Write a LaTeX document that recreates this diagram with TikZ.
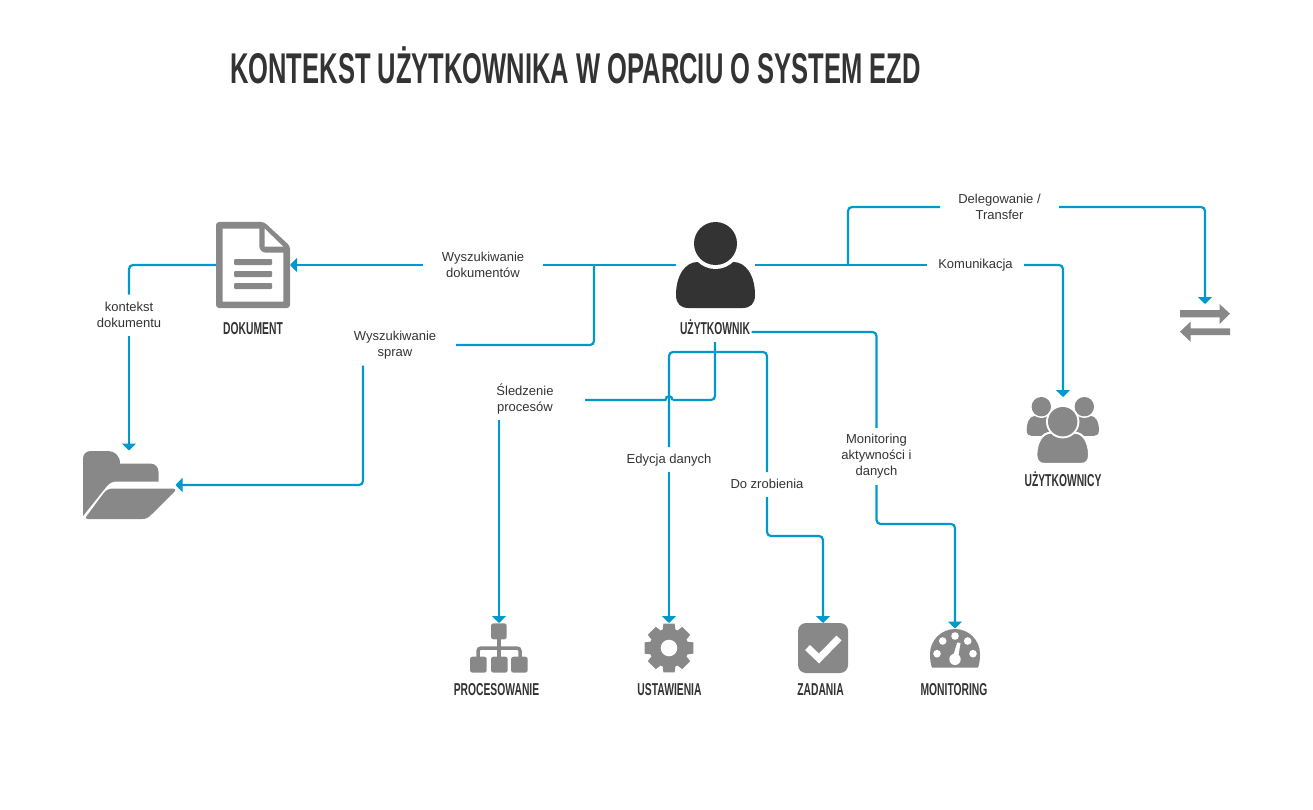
\documentclass[tikz,border=0pt]{standalone}
\usepackage{fontspec}
\usepackage{xcolor}
\setmainfont{Liberation Sans}
\newfontfamily\capfont[FakeStretch=0.6]{Liberation Sans Bold}
\newfontfamily\titlefont[FakeStretch=0.594]{Liberation Sans Bold}
\definecolor{flowblue}{RGB}{0, 153, 204}
\definecolor{icongray}{RGB}{136,136,136}
\definecolor{inkdark}{RGB}{51,51,51}
\usetikzlibrary{arrows.meta, positioning}
\tikzset{flow/.style={draw=flowblue, line width=2.2pt, rounded corners=4pt},
arrowflow/.style={flow, -{Triangle[length=7pt,width=14pt]}},
iconbox/.style={inner sep=0pt, outer sep=0pt},
txtlabel/.style={inner sep=0pt, outer sep=0pt, align=center, text=inkdark,
  font=\fontsize{13}{16}\selectfont},
oneline/.style={text height=10pt, text depth=3pt},
capt/.style={inner sep=0pt, outer sep=0pt, anchor=base, text=inkdark,
  font=\capfont\fontsize{17.2}{20}\selectfont}
}
% Function to draw a head-and-shoulders body, top centre at (#1,#2)
\newcommand{\fillbust}[5]{
  \path[#5, shift={(#1,#2)}, xscale=#3, yscale=#4] (-39.5,33)
    .. controls (-39.5,13) and (-30,0) .. (-18,0) -- (18,0)
    .. controls (30,0) and (39.5,13) .. (39.5,33)
    .. controls (39.5,42) and (34.5,46) .. (27,46) -- (-27,46)
    .. controls (-34.5,46) and (-39.5,42) .. (-39.5,33) -- cycle;
}
\begin{document}
\begin{tikzpicture}[x=1pt, y=-1pt]
\useasboundingbox (0,0) rectangle (1313,810);

% === Title ===
\node[anchor=base west, inner sep=0pt, text=inkdark, font=\titlefont\fontsize{43}{50}\selectfont] (title) at (230,84) {KONTEKST UŻYTKOWNIKA W OPARCIU O SYSTEM EZD};

% === Icon boxes (connectors end on these) ===
\node[iconbox, minimum width=74, minimum height=86] (dokument) at (253,265) {};
\node[iconbox, minimum width=93, minimum height=69] (folder) at (129,485) {};
\node[iconbox, minimum width=79, minimum height=86] (user) at (715.5,265) {};
\node[iconbox, minimum width=71, minimum height=67] (users) at (1063,430.5) {};
\node[iconbox, minimum width=50, minimum height=38] (transfer) at (1205,323) {};
\node[iconbox, minimum width=58, minimum height=50] (proces) at (499,648) {};
\node[iconbox, minimum width=50, minimum height=50] (gear) at (669,648) {};
\node[iconbox, minimum width=50, minimum height=50] (zadania) at (823,648) {};
\node[iconbox, minimum width=50, minimum height=39] (monit) at (955,648) {};

% === Captions ===
\node[capt] (capDokument) at (253,334) {DOKUMENT};
\node[capt, minimum width=73, text height=12pt, text depth=8pt] (capUser) at (715,334) {UŻYTKOWNIK};
\node[capt] (capUsers) at (1063,486.7) {UŻYTKOWNICY};
\node[capt] (capProces) at (496.5,695.7) {PROCESOWANIE};
\node[capt] (capGear) at (669.5,695.7) {USTAWIENIA};
\node[capt] (capZadania) at (820.5,695.7) {ZADANIA};
\node[capt] (capMonit) at (954,695.7) {MONITORING};

% === Connector labels ===
\node[txtlabel, minimum width=120, minimum height=36] (lblDocSearch) at (483,265) {Wyszukiwanie\\dokumentów};
\node[txtlabel, minimum width=70, minimum height=41] (lblKontekst) at (129,315) {kontekst\\dokumentu};
\node[txtlabel, minimum width=122, minimum height=41] (lblSprawy) at (395,345) {Wyszukiwanie\\spraw};
\node[txtlabel, minimum width=120, minimum height=42] (lblSled) at (525,399) {Śledzenie\\procesów};
\node[txtlabel, oneline, minimum width=95, minimum height=25] (lblEdycja) at (669,459.5) {Edycja danych};
\node[txtlabel, oneline, minimum width=80, minimum height=25] (lblZrobic) at (767,484.5) {Do zrobienia};
\node[txtlabel, minimum width=80, minimum height=57] (lblMonit) at (876.5,456.5) {Monitoring\\aktywności i\\danych};
\node[txtlabel, oneline, minimum width=97, minimum height=20] (lblKomunik) at (975.5,265) {Komunikacja};
\node[txtlabel, minimum width=119, minimum height=36] (lblDeleg) at (999.5,207) {Delegowanie /\\Transfer};

% === Branch points ===
\coordinate (junctionLeft) at (594,265);
\coordinate (junctionRight) at (848,265);
\coordinate (branchTop) at (715,352);
\coordinate (hopRight) at (672.5,400);
\coordinate (hopLeft) at (665.5,400);

% === Connectors ===
\draw[flow] (user.west) -- (lblDocSearch.east);
\draw[arrowflow] (lblDocSearch.west) -- (dokument.east);
\draw[flow] (dokument.west) -| (lblKontekst.north);
\draw[arrowflow] (lblKontekst.south) -- (folder.north);
\draw[flow] (junctionLeft) |- (lblSprawy.east);
\draw[arrowflow] ([xshift=-32pt]lblSprawy.south) |- (folder.east);
\draw[flow] (capUser.south) |- (hopRight);
\draw[draw=flowblue, line width=2.2pt] (hopRight) .. controls +(0,-5) and +(0,-5) .. (hopLeft) -- (hopLeft -| lblSled.east);
\draw[arrowflow] (lblSled.south -| proces.north) -- (proces.north);
\draw[flow] (branchTop) -| (lblEdycja.north);
\draw[arrowflow] (lblEdycja.south) -- (gear.north);
\draw[flow] (branchTop) -| (lblZrobic.north);
\draw[arrowflow] (lblZrobic.south) -- ++(0,39) -| (zadania.north);
\draw[flow] (capUser.east) -| (lblMonit.north);
\draw[arrowflow] (lblMonit.south) -- ++(0,39) -| (monit.north);
\draw[flow] (user.east) -- (lblKomunik.west);
\draw[arrowflow] (lblKomunik.east) -| (users.north);
\draw[flow] (junctionRight) |- (lblDeleg.west);
\draw[arrowflow] (lblDeleg.east) -| (transfer.north);

% === Icons ===
% Document
\fill[icongray, rounded corners=3pt] (216,222) -- (264,222) -- (290,246) -- (290,308) -- (216,308) -- cycle;
\fill[white] (222.7,228.7) -- (259.3,228.7) -- (259.3,246) .. controls (259.3,250) and (262,252.7) .. (266,252.7) -- (283.3,252.7) -- (283.3,301.7) -- (222.7,301.7) -- cycle;
\fill[white] (264.7,228.7) -- (283.3,246.7) -- (264.7,246.7) -- cycle;
\foreach \y in {259,271,283} {\fill[icongray, rounded corners=1pt] (234,\y) rectangle (272,\y+6);}

% Folder
\fill[icongray] (83,516) -- (83,459) .. controls (83,454) and (86,451) .. (91,451) -- (108,451) .. controls (114,451) and (120,455) .. (120,463.5) -- (150,463.5) .. controls (155,463.5) and (158.5,467) .. (158.5,472) -- (158.5,481.5) -- (117,481.5) .. controls (112,481.5) and (110,483) .. (107,486) -- cycle;
\fill[icongray] (86,517) -- (103,494) .. controls (106,490) and (109,488.5) .. (113,488.5) -- (173,488.5) .. controls (175,488.5) and (176,490) .. (175,491) -- (152,514) .. controls (148,518) and (146,519) .. (142,519) -- (88,519) .. controls (86,519) and (85,518) .. (86,517) -- cycle;

% User
\fillbust{715.5}{262}{1}{1}{fill=inkdark}
\fill[white] (715.5,243.5) circle (25.5);
\fill[inkdark] (715.5,243.5) circle (21.5);

% Users
\foreach \x in {1041.3,1084.3} {
  \fillbust{\x}{416}{.37}{.43}{fill=icongray}
  \fill[white] (\x,406.7) circle (11.3);
  \fill[icongray] (\x,406.7) circle (9.7);
}
\fillbust{1062.7}{432.7}{.667}{.68}{fill=icongray, draw=white, line width=2pt}
\fill[white] (1062.7,421.7) circle (16.7);
\fill[icongray] (1062.7,421.7) circle (14.7);

% Transfer
\fill[icongray] (1180,310) -- (1219.5,310) -- (1219.5,304) -- (1230,313.7) -- (1219.5,324) -- (1219.5,317.3) -- (1180,317.3) -- cycle;
\fill[icongray] (1230,328.3) -- (1190.5,328.3) -- (1190.5,321.7) -- (1180,331.7) -- (1190.5,341.7) -- (1190.5,335) -- (1230,335) -- cycle;

% Process tree
\foreach \x in {470,491,511} {\fill[icongray, rounded corners=2.5pt] (\x,656.7) rectangle (\x+16.7,672.7);}
\fill[icongray, rounded corners=2.5pt] (491,623.3) rectangle (506.7,639.3);
\draw[icongray, line width=3.5pt] (499,639) -- (499,657);
\draw[icongray, line width=3.5pt, rounded corners=3pt] (478,657) -- (478,648) -- (520,648) -- (520,657);

% Gear
\begin{scope}[shift={(669,648)}]
  \fill[icongray, line join=round] (-19:19.5) \foreach \a in {0,45,...,315} {-- (\a-19:19.5) -- (\a-13:25) -- (\a+13:25) -- (\a+19:19.5)} -- cycle;
  \fill[white] (0,0) circle (8.3);
\end{scope}

% Task
\fill[icongray, rounded corners=8pt] (798,623) rectangle (848,673);
\draw[white, line width=7pt] (807.5,647.5) -- (819,658.5) -- (839,638);

% Gauge
\fill[icongray] (932,667.7) .. controls (930.7,664) and (930,660) .. (930,654) .. controls (930,640.2) and (941.2,629) .. (955,629) .. controls (968.8,629) and (980,640.2) .. (980,654) .. controls (980,660) and (979.3,664) .. (978,667.7) -- cycle;
\foreach \x/\y in {955/636, 942.7/641, 967.7/641, 937/653.7, 973/653.7} {\fill[white] (\x,\y) circle (3.8);}
\fill[white] (952.5,658) -- (957.2,642.5) -- (960.5,643) -- (958,658) -- cycle;
\fill[white] (955,659.3) circle (5.7);
\end{tikzpicture}
\end{document}
